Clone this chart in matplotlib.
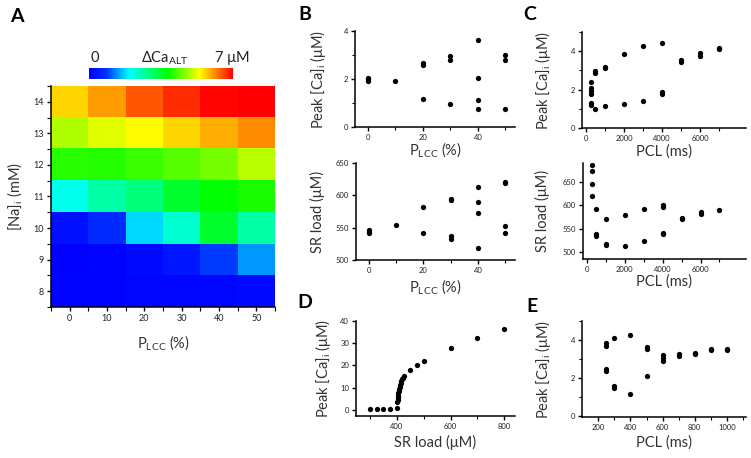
import numpy as np
import matplotlib
matplotlib.use("Agg")
import matplotlib.pyplot as plt
from matplotlib.colors import LinearSegmentedColormap

plt.rcParams['font.family'] = ['Lato', 'DejaVu Sans']
plt.rcParams['mathtext.fontset'] = 'custom'
plt.rcParams['mathtext.rm'] = 'Lato'

# ---- panel A: heatmap of delta Ca_ALT (uM), rows = [Na]i 8..14, cols = P_LCC 0..50
plcc_levels = [0, 10, 20, 30, 40, 50]
na_levels = [8, 9, 10, 11, 12, 13, 14]
dca = np.array([
    [0.05, 0.05, 0.1, 0.1, 0.1, 0.15],   # 8
    [0.0, 0.05, 0.15, 0.35, 0.9, 1.4],   # 9
    [0.25, 0.7, 1.75, 2.3, 3.5, 2.6],    # 10
    [2.1, 2.6, 2.95, 3.5, 3.85, 4.0],    # 11
    [4.1, 4.05, 4.2, 4.35, 4.55, 4.95],  # 12
    [4.9, 5.2, 5.4, 5.65, 5.9, 6.1],     # 13
    [5.65, 6.0, 6.45, 6.7, 6.95, 7.0],   # 14
])

# ---- panel B: vs P_LCC
b_plcc = [0, 0, 0, 10, 20, 20, 20, 30, 30, 30, 40, 40, 40, 40, 50, 50, 50]
b_peak = [1.9, 1.98, 2.06, 1.93, 2.58, 2.65, 1.15, 2.8, 2.95, 0.97, 3.62, 2.03, 1.14, 0.75, 3.0, 2.8, 0.75]
b_plcc2 = [0, 0, 0, 10, 20, 20, 30, 30, 30, 30, 40, 40, 40, 40, 50, 50, 50, 50]
b_sr = [541, 544, 546, 554, 582, 542, 593, 595, 533, 537, 613, 589, 573, 518, 619, 621, 552, 542]

# ---- panel C: vs PCL
c_pcl = [250, 250, 250, 250, 250, 250, 500, 500, 500, 1000, 1000, 1000, 2000, 2000,
         3000, 3000, 4000, 4000, 4000, 5000, 5000, 6000, 6000, 7000, 7000]
c_peak = [2.42, 2.1, 1.92, 1.75, 1.3, 1.22, 2.95, 2.84, 0.99, 3.2, 3.1, 1.12, 3.83, 1.26,
          4.26, 1.42, 4.45, 1.9, 1.75, 3.52, 3.42, 3.92, 3.77, 4.17, 4.13]
c_pcl2 = [250, 250, 250, 250, 500, 500, 500, 1000, 1000, 1000, 2000, 2000,
          3000, 3000, 4000, 4000, 4000, 4000, 5000, 5000, 6000, 6000, 7000]
c_sr = [685, 673, 645, 620, 593, 539, 535, 572, 518, 515, 580, 514,
        593, 524, 600, 597, 542, 539, 573, 571, 586, 582, 590]

# ---- panel D: peak Ca vs SR load
d_sr = [300, 325, 350, 375, 400, 402, 403, 404, 405, 406, 407, 408, 410, 412, 414,
        417, 420, 424, 428, 450, 475, 500, 600, 700, 800]
d_peak = [0.5, 0.5, 0.5, 0.5, 1.0, 3.5, 4.5, 5.5, 6.5, 7.5, 8.5, 9.5, 10.5, 11.3, 12.0,
          13.0, 13.8, 14.6, 15.4, 18.2, 20.3, 22.0, 27.8, 32.5, 36.5]

# ---- panel E: peak Ca vs PCL (short)
e_pcl = [250, 250, 250, 250, 300, 300, 300, 400, 400, 500, 500, 500,
         600, 600, 600, 700, 700, 800, 800, 900, 900, 1000, 1000]
e_peak = [3.86, 3.7, 2.48, 2.36, 4.1, 1.58, 1.48, 4.27, 1.16, 3.63, 3.52, 2.13,
          3.22, 3.06, 2.9, 3.26, 3.15, 3.31, 3.27, 3.55, 3.46, 3.51, 3.47]

cmap = LinearSegmentedColormap.from_list(
    "dca", [(0.0, "#0000ff"), (0.12, "#0033ff"), (0.28, "#00ffff"),
            (0.55, "#00ff00"), (0.77, "#ffff00"), (1.0, "#ff0000")])

fig = plt.figure(figsize=(7.51, 4.58), dpi=100)

tick_fs = 5.5
lab_fs = 10.5


def style(ax):
    for s in ['top', 'right']:
        ax.spines[s].set_visible(False)
    for s in ['left', 'bottom']:
        ax.spines[s].set_linewidth(1.1)
    ax.tick_params(direction='out', length=3, width=1, labelsize=tick_fs, pad=2,
                   labelcolor='#222222')
    ax.tick_params(which='minor', direction='out', length=2, width=0.8)


def labels(ax, xl, yl, xy, yx):
    ax.set_xlabel(xl, fontsize=lab_fs, color='#333333')
    ax.set_ylabel(yl, fontsize=lab_fs, color='#333333')
    ax.xaxis.set_label_coords(0.5, xy)
    ax.yaxis.set_label_coords(yx, 0.5)
    ax.xaxis.label.set_va('center')
    ax.yaxis.label.set_va('center')


peak_lab = r'Peak [Ca]$_\mathregular{i}$ (μM)'
plcc_lab = r'P$_\mathregular{LCC}$ (%)'

# A heatmap
axA = fig.add_axes([51/751, 1-307/458, 224/751, 221/458])
axA.imshow(dca, cmap=cmap, vmin=0, vmax=7, origin='lower', aspect='auto',
           extent=(-5, 55, 7.5, 14.5), interpolation='nearest')
style(axA)
axA.set_xticks(plcc_levels)
axA.set_yticks(na_levels)
axA.set_xticks(np.arange(-5, 56, 10), minor=True)
axA.set_yticks(np.arange(7.5, 14.6, 1), minor=True)
axA.tick_params(labelsize=6.5)
axA.tick_params(which='minor', length=3)
labels(axA, plcc_lab, r'[Na]$_\mathregular{i}$ (mM)', -0.165, -0.16)

axCB = fig.add_axes([89/751, 1-79/458, 144/751, 11/458])
axCB.imshow(np.linspace(0, 7, 256)[None, :], cmap=cmap, aspect='auto', vmin=0, vmax=7)
axCB.set_axis_off()
fig.text(95/751, 1-58/458, "0", fontsize=10.5, ha='center', va='center', color='#222222')
fig.text(165/751, 1-58/458, r'ΔCa$_\mathregular{ALT}$', fontsize=10.5, ha='center',
         va='center', color='#222222')
fig.text(232/751, 1-58/458, "7 μM", fontsize=10.5, ha='center', va='center', color='#222222')

mk = dict(marker='o', ls='none', ms=3.8, color='black', mew=0)

# B top
axB1 = fig.add_axes([355/751, 1-127/458, 160/751, 96/458])
axB1.plot(b_plcc, b_peak, **mk)
axB1.set_xlim(-4.7, 53.5)
axB1.set_ylim(0, 4)
axB1.set_xticks([0, 20, 40])
axB1.set_xticks([10, 30, 50], minor=True)
axB1.set_yticks([0, 2, 4])
axB1.set_yticks([1, 3], minor=True)
style(axB1)
labels(axB1, plcc_lab, peak_lab, -0.245, -0.23)

# B bottom
axB2 = fig.add_axes([356/751, 1-260/458, 159/751, 97/458])
axB2.plot(b_plcc2, b_sr, **mk)
axB2.set_xlim(-4.7, 53.5)
axB2.set_ylim(500, 650)
axB2.set_xticks([0, 20, 40])
axB2.set_xticks([10, 30, 50], minor=True)
axB2.set_yticks([500, 550, 600, 650])
style(axB2)
labels(axB2, plcc_lab, 'SR load (μM)', -0.28, -0.24)

# C top
axC1 = fig.add_axes([582/751, 1-128/458, 164/751, 96/458])
axC1.plot(c_pcl, c_peak, **mk)
axC1.set_xlim(-200, 8400)
axC1.set_ylim(0, 5)
axC1.set_xticks([0, 2000, 4000, 6000])
axC1.set_xticks([1000, 3000, 5000, 7000], minor=True)
axC1.set_yticks([0, 2, 4])
axC1.set_yticks([1, 3, 5], minor=True)
style(axC1)
labels(axC1, 'PCL (ms)', peak_lab, -0.25, -0.24)

# C bottom
axC2 = fig.add_axes([583/751, 1-259/458, 163/751, 96/458])
axC2.plot(c_pcl2, c_sr, **mk)
axC2.set_xlim(-200, 8400)
axC2.set_ylim(486, 690)
axC2.set_xticks([0, 2000, 4000, 6000])
axC2.set_xticks([1000, 3000, 5000, 7000], minor=True)
axC2.set_yticks([500, 550, 600, 650])
style(axC2)
labels(axC2, 'PCL (ms)', 'SR load (μM)', -0.24, -0.25)

# D
axD = fig.add_axes([356/751, 1-416/458, 159/751, 95/458])
axD.plot(d_sr, d_peak, **mk)
axD.set_xlim(248, 840)
axD.set_ylim(-2.7, 40)
axD.set_xticks([400, 600, 800])
axD.set_xticks([300, 500, 700], minor=True)
axD.set_yticks([0, 10, 20, 30, 40])
style(axD)
labels(axD, 'SR load (μM)', peak_lab, -0.28, -0.21)

# E
axE = fig.add_axes([582/751, 1-417/458, 164/751, 96/458])
axE.plot(e_pcl, e_peak, **mk)
axE.set_xlim(98, 1120)
axE.set_ylim(-0.03, 5)
axE.set_xticks([200, 400, 600, 800, 1000])
axE.set_xticks([300, 500, 700, 900, 1100], minor=True)
axE.set_yticks([0, 2, 4])
axE.set_yticks([1, 3, 5], minor=True)
style(axE)
labels(axE, 'PCL (ms)', peak_lab, -0.27, -0.24)

# panel letters
for s, x, y in [("A", 17, 16), ("B", 305, 15), ("C", 530, 15), ("D", 305, 303), ("E", 532, 306)]:
    fig.text(x/751, 1-y/458, s, fontsize=14, fontweight='bold', ha='center', va='center')

fig.savefig("out.png", dpi=100)
